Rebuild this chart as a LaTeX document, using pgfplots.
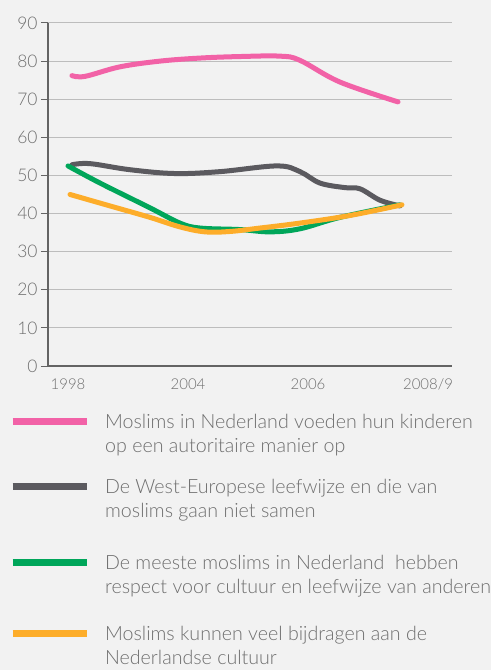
\documentclass[border=0pt]{standalone}
\usepackage{fontspec}
\setmainfont{Lato Light}
\usepackage{pgfplots}
\pgfplotsset{compat=1.18}
\definecolor{bg}{HTML}{F2F2F2}
\definecolor{pinkc}{HTML}{F262A7}
\definecolor{grayc}{HTML}{5B5A5F}
\definecolor{greenc}{HTML}{00A65A}
\definecolor{orangec}{HTML}{FDAD2A}
\definecolor{txt}{HTML}{6E6E6E}
\definecolor{axc}{HTML}{646464}
\definecolor{gridc}{HTML}{BDBDBD}
\newcommand{\entry}[3]{\parbox[b][#3][b]{392bp}{\raggedright #1\newline #2}}
\begin{document}
\begin{tikzpicture}
\fill[bg] (0bp,0bp) rectangle (491bp,670bp);
\useasboundingbox (0bp,0bp) rectangle (491bp,670bp);
\begin{axis}[
  at={(48bp,304bp)}, anchor=south west,
  scale only axis, width=404bp, height=343bp,
  xmin=-0.1667, xmax=3.2, ymin=0, ymax=90,
  axis x line*=bottom, axis y line*=left,
  axis line style={axc, line width=1.5bp, -},
  ymajorgrids, grid style={gridc, line width=1bp},
  ytick={0,10,...,90},
  xtick={0,1,2,3}, xticklabels={1998,2004,2006,2008/9},
  tick align=outside, major tick length=7bp,
  x tick style={draw=none},
  y tick style={axc, line width=1bp},
  /pgf/number format/assume math mode=true,
  yticklabel style={font=\fontsize{17.5}{17.5}\selectfont, text=txt},
  xticklabel style={font=\fontsize{15}{15}\selectfont, text=txt, yshift=-2bp},
  every axis plot/.append style={line width=5bp, line cap=round, smooth, tension=0.6},
  legend image code/.code={\draw[#1, line width=7bp, line cap=butt] (0bp,31bp) -- (74bp,31bp);},
  legend style={at={(axis description cs:-0.104,-0.126)}, anchor=north west,
    draw=none, fill=none, column sep=13bp, row sep=0pt,
    font=\fontsize{19.7}{24}\selectfont, text=txt,
    cells={anchor=base west}},
]
\addplot[pinkc] coordinates {(0.033,76.2) (0.142,76) (0.433,78.5) (0.767,80) (1.1,80.8) (1.433,81.2) (1.767,81.3) (1.933,80.2) (2.267,74.5) (2.75,69.3)};
\addlegendentry{\entry{Moslims in Nederland voeden hun kinderen}{op een autoritaire manier op}{39bp}}
\addplot[grayc] coordinates {(0.033,52.8) (0.183,53.1) (0.517,51.5) (0.892,50.5) (1.267,51) (1.742,52.5) (1.933,51) (2.1,48) (2.308,46.8) (2.433,46.5) (2.6,43.5) (2.767,42)};
\addlegendentry{\entry{De West-Europese leefwijze en die van}{moslims gaan niet samen}{60bp}}
\addplot[greenc] coordinates {(0,52.5) (0.267,48) (0.683,41.5) (0.933,37.5) (1.1,36.2) (1.433,35.8) (1.683,35.2) (1.933,36) (2.267,39) (2.767,42.3)};
\addlegendentry{\entry{De meeste moslims in Nederland\ \ hebben}{respect voor cultuur en leefwijze van anderen}{70bp}}
\addplot[orangec] coordinates {(0.017,45) (0.35,42) (0.683,39) (0.933,36.5) (1.142,35.2) (1.35,35.3) (1.6,36.2) (1.933,37.5) (2.35,39.5) (2.783,42.3)};
\addlegendentry{\entry{Moslims kunnen veel bijdragen aan de}{Nederlandse cultuur}{66bp}}
\end{axis}
\end{tikzpicture}
\end{document}
